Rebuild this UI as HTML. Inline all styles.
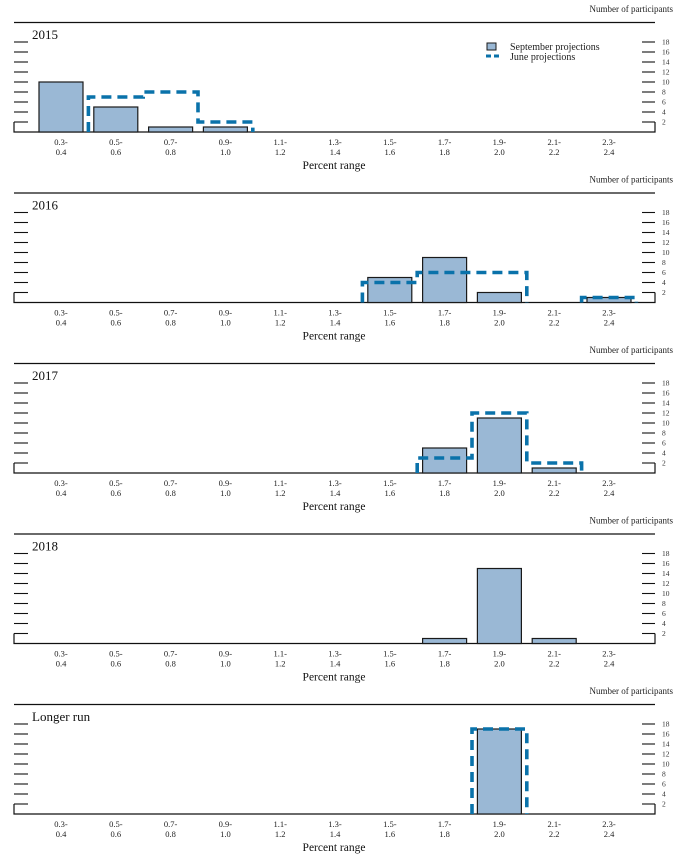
<!DOCTYPE html>
<html><head><meta charset="utf-8"><style>
html,body{margin:0;padding:0;background:#fff;}
svg{display:block;font-family:"Liberation Serif",serif;}
</style></head><body>
<svg id="c" width="686" height="865" viewBox="0 0 686 865"></svg>
<script>
const categories = ["0.3-|0.4","0.5-|0.6","0.7-|0.8","0.9-|1.0","1.1-|1.2","1.3-|1.4","1.5-|1.6","1.7-|1.8","1.9-|2.0","2.1-|2.2","2.3-|2.4"];
const panelTitles = ["2015","2016","2017","2018","Longer run"];
const septSeries = [
  [10,5,1,1,0,0,0,0,0,0,0],
  [0,0,0,0,0,0,5,9,2,0,1],
  [0,0,0,0,0,0,0,5,11,1,0],
  [0,0,0,0,0,0,0,1,15,1,0],
  [0,0,0,0,0,0,0,0,17,0,0]
];
const juneSeries = [
  [0,7,8,2,0,0,0,0,0,0,0],
  [0,0,0,0,0,0,4,6,6,0,1],
  [0,0,0,0,0,0,0,3,12,2,0],
  [0,0,0,0,0,0,0,0,0,0,0],
  [0,0,0,0,0,0,0,0,17,0,0]
];
const yTicks = [2,4,6,8,10,12,14,16,18];

const svg = document.getElementById('c');
const NS = 'http://www.w3.org/2000/svg';
function mk(tag, attrs, parent){const e=document.createElementNS(NS,tag);for(const k in attrs)e.setAttribute(k,attrs[k]);(parent||svg).appendChild(e);return e;}
const X0=61, STEP=54.8, BW=44, PX=5;
const xC = i => X0 + i*STEP;

panelTitles.forEach((title,p)=>{
  const off = p*170.5;
  const base = 132 + off;
  const yS = v => base - v*PX;
  const g = mk('g',{});
  
  
  let t = mk('text',{x:673,y:12+off,'text-anchor':'end','font-size':9,fill:'#222'},g);
  t.textContent='Number of participants';
  
  
  let l = mk('line',{x1:14,x2:655,y1:22.5+off,y2:22.5+off,stroke:'#111','stroke-width':1.2},g);
  
  
  t = mk('text',{x:32,y:39+off,'font-size':13,fill:'#111'},g);
  t.textContent=title;
  
  
  l = mk('path',{d:`M14 ${yS(2)} V${base} H655 V${yS(2)}`,fill:'none',stroke:'#111','stroke-width':1.2},g);
  
  
  yTicks.forEach(v=>{
    mk('line',{x1:14,x2:28,y1:yS(v),y2:yS(v),stroke:'#111','stroke-width':1.1},g);
    mk('line',{x1:642,x2:655,y1:yS(v),y2:yS(v),stroke:'#111','stroke-width':1.1},g);
    const tt = mk('text',{x:662,y:yS(v)+2.5,'font-size':7.5,fill:'#333'},g);
    tt.textContent=v;
    
    
  });
  septSeries[p].forEach((v,i)=>{
    if(!v) return;
    const r = mk('rect',{x:xC(i)-BW/2,y:yS(v),width:BW,height:v*PX,fill:'#9ab8d5',stroke:'#1a1a1a','stroke-width':1.2},g);
    
    
  });
  const js = juneSeries[p];
  let d='';
  let i=0;
  while(i<js.length){
    if(!js[i]){i++;continue;}
    let left = xC(i)-STEP/2;
    d += `M${left} ${base} V${yS(js[i])}`;
    while(i<js.length && js[i]){
      const right = xC(i)+STEP/2;
      d += ` H${right}`;
      if(i+1<js.length && js[i+1]) d += ` V${yS(js[i+1])}`;
      else d += ` V${base}`;
      i++;
    }
    d+=' ';
  }
  if(d){
    const pth = mk('path',{d:d,fill:'none',stroke:'#0a72aa','stroke-width':3.6,'stroke-dasharray':'10 6'},g);
    
    
  }
  categories.forEach((c,k)=>{
    const [a,b]=c.split('|');
    const tt = mk('text',{x:xC(k),y:base+13,'text-anchor':'middle','font-size':8.5,fill:'#222'},g);
    tt.textContent=a;
    
    
    const t2 = mk('text',{x:xC(k),y:base+23,'text-anchor':'middle','font-size':8.5,fill:'#222'},g);
    t2.textContent=b;
    
    
  });
  t = mk('text',{x:334,y:base+37,'text-anchor':'middle','font-size':11.5,fill:'#111'},g);
  t.textContent='Percent range';
  
  
  if(p===0){
    const lg = mk('g',{},g);
    
    
    mk('rect',{x:487,y:43,width:9,height:7,fill:'#9ab8d5',stroke:'#1a1a1a','stroke-width':1},lg);
    let lt = mk('text',{x:510,y:50,'font-size':10,fill:'#222'},lg);
    lt.textContent='September projections';
    
    
    mk('line',{x1:486,x2:500,y1:56,y2:56,stroke:'#0a72aa','stroke-width':3,'stroke-dasharray':'5 3'},lg);
    lt = mk('text',{x:510,y:60,'font-size':10,fill:'#222'},lg);
    lt.textContent='June projections';
    
    
  }
});
</script>
</body></html>
